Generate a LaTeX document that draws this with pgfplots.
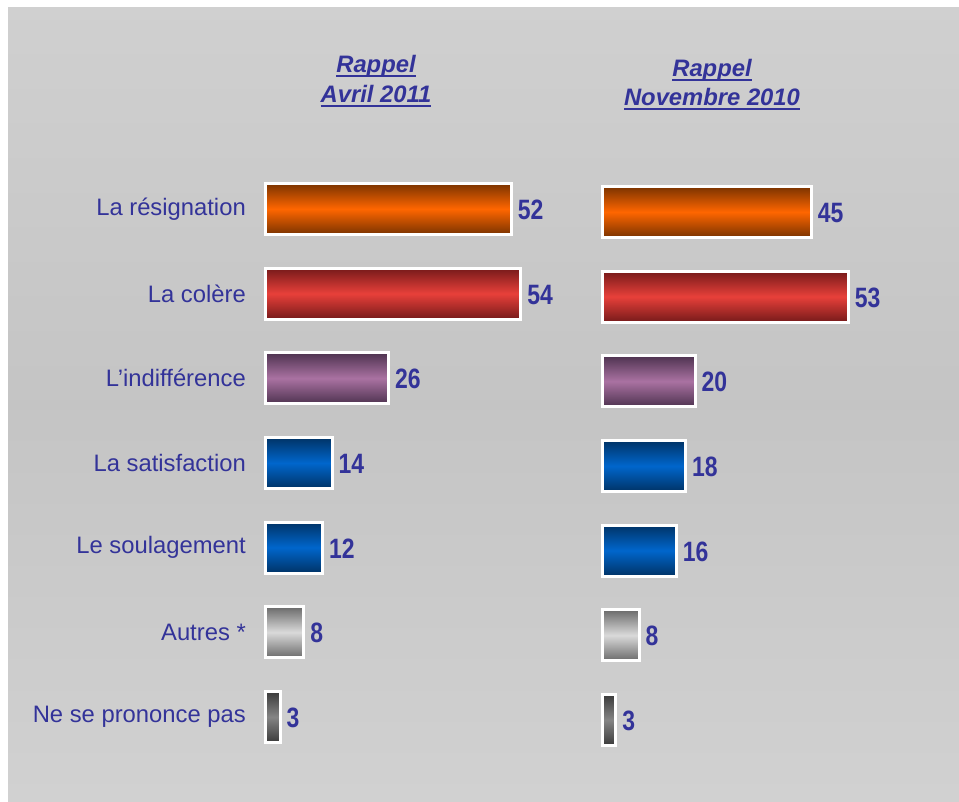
\documentclass[border=0pt]{standalone}
\usepackage{pgfplots}
\pgfplotsset{compat=1.18}
\usepackage{fontspec}
\setmainfont{Liberation Sans}
\newfontfamily\narrow[FakeStretch=0.82]{Liberation Sans}
\newcommand\uln[1]{\setbox0\hbox{#1}\rlap{\rule[-4pt]{\wd0}{2.2pt}}\box0}
\definecolor{txtblue}{HTML}{333399}
\definecolor{orgA}{HTML}{7A3300}
\definecolor{orgB}{HTML}{FF6600}
\definecolor{redA}{HTML}{761A1A}
\definecolor{redB}{HTML}{E8403A}
\definecolor{purA}{HTML}{4E3350}
\definecolor{purB}{HTML}{AA72A2}
\definecolor{bluA}{HTML}{003366}
\definecolor{bluB}{HTML}{0066CC}
\definecolor{gryA}{HTML}{6A6A6A}
\definecolor{gryB}{HTML}{DADADA}
\definecolor{dgyA}{HTML}{3A3A3A}
\definecolor{dgyB}{HTML}{858585}
\pgfdeclareverticalshading{bgshade}{100bp}{%
  color(0bp)=(black!13); color(50bp)=(black!23); color(100bp)=(black!14)}

\newcommand{\mybar}[4]{%
  \addplot[barstyle, top color=#1, bottom color=#1, middle color=#2] coordinates {(#3,#4)};}

\pgfplotsset{
  barstyle/.style={xbar, bar width=51pt, bar shift=0pt, draw=white, line width=3pt,
    nodes near coords,
    nodes near coords style={anchor=west, inner sep=0pt, xshift=5pt, yshift=-1pt, text=txtblue,
      font=\narrow\bfseries\fontsize{28}{28}\selectfont,
      /pgf/number format/assume math mode=true}},
  panel/.style={anchor=south west, scale only axis, height=592.7pt,
    xmin=0, xmax=60, ymin=0.5, ymax=7.5, clip=false,
    axis line style={draw=none}, tick style={draw=none}, xtick=\empty}
}

\begin{document}
\begin{tikzpicture}[x=1pt, y=1pt]
\fill[white] (0,0) rectangle (959,802);
\shade[shading=bgshade] (8,0) rectangle (959,794);

\begin{axis}[panel, at={(266pt,42.7pt)}, width=283.2pt,
    ytick={1,...,7},
    yticklabels={Ne se prononce pas, Autres *, Le soulagement, La satisfaction, L’indifférence, La colère, La résignation},
    yticklabel style={anchor=east, inner sep=0pt, xshift=-20pt, yshift=0pt, text=txtblue,
      font=\fontsize{23.8}{28}\selectfont}]
\mybar{orgA}{orgB}{52}{7}
\mybar{redA}{redB}{54}{6}
\mybar{purA}{purB}{26}{5}
\mybar{bluA}{bluB}{14}{4}
\mybar{bluA}{bluB}{12}{3}
\mybar{gryA}{gryB}{8}{2}
\mybar{dgyA}{dgyB}{3}{1}
\end{axis}

\begin{axis}[panel, at={(602pt,39.7pt)}, width=279pt, ytick=\empty]
\mybar{orgA}{orgB}{45}{7}
\mybar{redA}{redB}{53}{6}
\mybar{purA}{purB}{20}{5}
\mybar{bluA}{bluB}{18}{4}
\mybar{bluA}{bluB}{16}{3}
\mybar{gryA}{gryB}{8}{2}
\mybar{dgyA}{dgyB}{3}{1}
\end{axis}

\begin{scope}[every node/.style={anchor=base, inner sep=0pt, text=txtblue,
    font=\bfseries\itshape\fontsize{23.8}{28}\selectfont}]
\node at (376,729) {\uln{Rappel}};
\node at (376,699) {\uln{Avril 2011}};
\node at (712,725) {\uln{Rappel}};
\node at (712,696) {\uln{Novembre 2010}};
\end{scope}
\end{tikzpicture}
\end{document}
